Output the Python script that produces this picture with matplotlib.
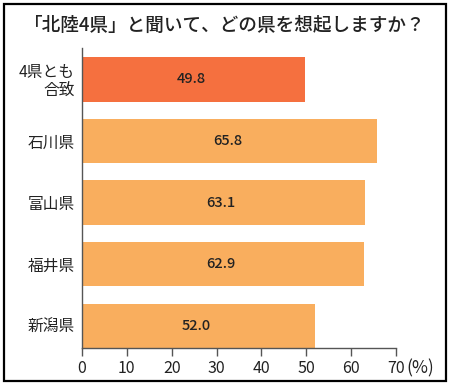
import matplotlib
matplotlib.use('Agg')
import matplotlib.pyplot as plt
from matplotlib.patches import Rectangle

plt.rcParams['font.family'] = ['Noto Sans CJK JP', 'DejaVu Sans']

# data
categories = ["4県とも\n合致", "石川県", "富山県", "福井県", "新潟県"]
values = [49.8, 65.8, 63.1, 62.9, 52.0]
colors = ["#F5703F", "#F9AE5E", "#F9AE5E", "#F9AE5E", "#F9AE5E"]
xticks = [0, 10, 20, 30, 40, 50, 60, 70]
title = "「北陸4県」と聞いて、どの県を想起しますか？"

fig = plt.figure(figsize=(4.5, 3.85), dpi=100)
ax = fig.add_axes([82/450, 1-348/385, 314/450, 300/385])

ypos = list(range(len(categories)))
ax.barh(ypos, values, height=0.72, color=colors, edgecolor='none')
for y, v in zip(ypos, values):
    ax.text(v/2 - 0.5, y, "%.1f" % v, ha='center', va='center',
            fontsize=10.5, weight='medium', color='#222222')

ax.set_xlim(0, 70)
ax.set_ylim(4.36, -0.51)
ax.set_xticks(xticks)
ax.set_xticklabels([str(t) for t in xticks], fontsize=11.5, color='#222222')
ax.set_yticks(ypos)
ax.set_yticklabels(categories, fontsize=11.3, color='#222222', linespacing=1.05)
for t in ax.get_yticklabels():
    t.set_multialignment('right')
ax.tick_params(axis='y', length=0, pad=5)
ax.tick_params(axis='x', direction='out', length=5.5, width=1, color='#555555', pad=3)
for s in ['top', 'right']:
    ax.spines[s].set_visible(False)
for s in ['left', 'bottom']:
    ax.spines[s].set_color('#555555')
    ax.spines[s].set_linewidth(1)

# unit label right after the last tick label
ax.text((406 - 82) / 314 * 70, -0.038, "(%)", transform=ax.get_xaxis_transform(),
        ha='left', va='top', fontsize=12.5, color='#222222')

fig.text(0.5, 1-25/385, title, ha='center', va='center', fontsize=13.4,
         weight='medium', color='#222222')

# outer frame
fig.patches.append(Rectangle((4/450, 4/385), 442/450, 377/385, transform=fig.transFigure,
                             fill=False, edgecolor='black', linewidth=1.6))

fig.savefig("out.png", dpi=100)
